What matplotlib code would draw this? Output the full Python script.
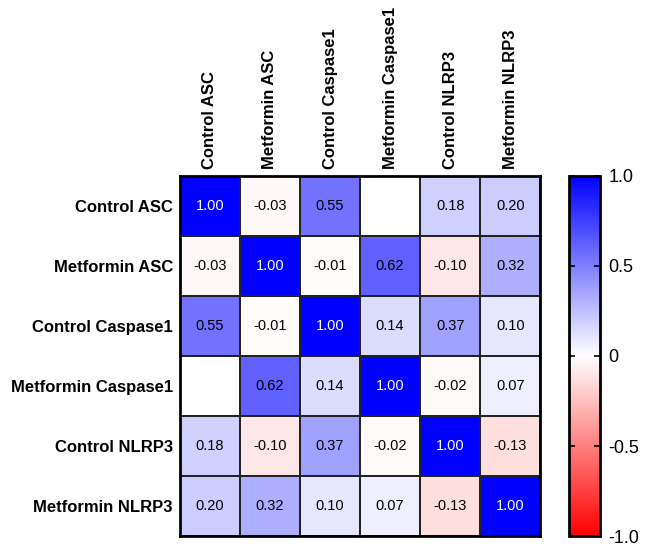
import numpy as np
from matplotlib import pyplot as plt
from matplotlib.colors import LinearSegmentedColormap

plt.rcParams['font.family'] = ['Liberation Sans', 'DejaVu Sans']

labels = ['Control ASC', 'Metformin ASC', 'Control Caspase1',
          'Metformin Caspase1', 'Control NLRP3', 'Metformin NLRP3']

# корреляции, пустая клетка = nan
corr = [
    [1.00, -0.03, 0.55, np.nan, 0.18, 0.20],
    [-0.03, 1.00, -0.01, 0.62, -0.10, 0.32],
    [0.55, -0.01, 1.00, 0.14, 0.37, 0.10],
    [np.nan, 0.62, 0.14, 1.00, -0.02, 0.07],
    [0.18, -0.10, 0.37, -0.02, 1.00, -0.13],
    [0.20, 0.32, 0.10, 0.07, -0.13, 1.00],
]

cbar_ticks = [-1.0, -0.5, 0, 0.5, 1.0]
cbar_labels = ['-1.0', '-0.5', '0', '0.5', '1.0']

cmap = LinearSegmentedColormap.from_list('rwb', ['#ff0000', '#ffffff', '#0000ff'])

data = np.ma.masked_invalid(np.array(corr))
n = len(labels)

fig = plt.figure(figsize=(6.47, 5.46), dpi=100)
ax = fig.add_axes([0.278, 0.018, 0.557, 0.66])
mesh = ax.pcolormesh(data, cmap=cmap, vmin=-1, vmax=1, edgecolors='#222222', linewidth=1.2)
ax.set_xlim(0, n)
ax.set_ylim(n, 0)

for i in range(n):
    for j in range(n):
        v = corr[i][j]
        if np.isnan(v):
            continue
        color = 'white' if v > 0.8 else 'black'
        ax.text(j + 0.5, i + 0.5, f'{v:.2f}', ha='center', va='center', fontsize=10.5, color=color)

ax.xaxis.tick_top()
ax.set_xticks(np.arange(n) + 0.5)
ax.set_xticklabels(labels, rotation=90, fontsize=12, fontweight='bold')
ax.set_yticks(np.arange(n) + 0.5)
ax.set_yticklabels(labels, fontsize=12, fontweight='bold')
ax.tick_params(length=0, pad=5)
for s in ax.spines.values():
    s.set_linewidth(2)

cax = fig.add_axes([0.879, 0.018, 0.049, 0.66])
cb = fig.colorbar(mesh, cax=cax, ticks=cbar_ticks)
cb.ax.set_yticklabels(cbar_labels, fontsize=13)
cb.outline.set_linewidth(2)
cb.ax.tick_params(direction='in', length=4, width=1.2, right=True, left=True, pad=6)

plt.savefig('out.png', dpi=100)
